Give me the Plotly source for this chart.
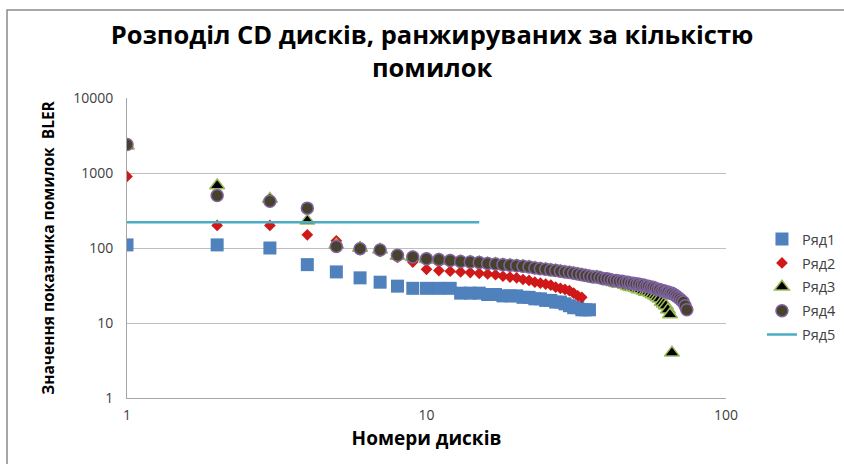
import plotly.graph_objects as go

# Ranked BLER values for each series (disc rank -> error count)
ryad1 = [110, 110, 100, 60, 48, 40, 35, 31, 29, 29, 29, 29, 25, 25, 25, 24, 24,
         23, 23, 23, 22, 22, 21, 21, 20, 20, 19, 19, 18, 17, 16, 16, 15, 15, 15]
ryad2 = [900, 200, 200, 150, 125, 95, 90, 75, 65, 52, 50, 49, 48, 47, 46, 45,
         44, 42, 41, 40, 38, 37, 35, 34, 33, 32, 30, 29, 28, 27, 25, 23, 22]
ryad3 = [2300, 680, 450, 230, 110, 100, 95, 78, 75, 71, 69, 67, 66, 65, 64, 62,
         61, 60, 59, 58, 57, 56, 54, 53, 52, 51, 50, 49, 48, 47, 46, 45, 44, 43,
         42, 41, 41, 40, 38, 37, 36, 35, 34, 33, 33, 32, 31, 30, 30, 29, 28, 28,
         27, 26, 26, 25, 24, 23, 22, 21, 19, 18, 17, 15, 13, 4]
ryad4 = [2400, 500, 420, 340, 105, 98, 94, 80, 76, 72, 70, 68, 66, 65, 64, 62,
         61, 60, 59, 58, 57, 56, 54, 53, 52, 51, 50, 49, 48, 47, 46, 45, 44, 43,
         42, 41, 41, 40, 39, 39, 38, 37, 37, 36, 36, 35, 35, 34, 34, 33, 33, 32,
         32, 31, 31, 30, 30, 29, 28, 28, 27, 27, 26, 26, 25, 25, 24, 23, 22, 21,
         20, 19, 17, 15]
ryad5 = [220] * 15

series_names = ["Ряд1", "Ряд2", "Ряд3", "Ряд4", "Ряд5"]

x_tick_vals = [1, 10, 100]
x_tick_text = ["1", "10", "100"]
y_tick_vals = [1, 10, 100, 1000, 10000]
y_tick_text = ["1", "10", "100", "1000", "10000"]

FONT = "Open Sans"


def ranks(values):
    return list(range(1, len(values) + 1))


fig = go.Figure()

fig.add_trace(go.Scatter(
    x=ranks(ryad1), y=ryad1, name=series_names[0], mode="markers",
    legendgroup="1",
    marker=dict(symbol="square", size=13, color="#4F81BD",
                line=dict(color="#4F81BD", width=0)),
))
fig.add_trace(go.Scatter(
    x=ranks(ryad2), y=ryad2, name=series_names[1], mode="markers",
    legendgroup="2",
    marker=dict(symbol="diamond", size=9, color="#D01818",
                line=dict(color="#D01818", width=0)),
))
fig.add_trace(go.Scatter(
    x=ranks(ryad3), y=ryad3, name=series_names[2], mode="markers",
    legendgroup="3",
    marker=dict(symbol="triangle-up", size=13, color="#000000",
                line=dict(color="#9BBB59", width=1.5)),
))
fig.add_trace(go.Scatter(
    x=ranks(ryad4), y=ryad4, name=series_names[3], mode="markers",
    legendgroup="4",
    marker=dict(symbol="circle", size=12, color="#47422C",
                line=dict(color="#8064A2", width=1.5)),
))
fig.add_trace(go.Scatter(
    x=ranks(ryad5), y=ryad5, name=series_names[4], mode="lines",
    legendgroup="5",
    line=dict(color="#4BACC6", width=2.5),
))

axis_common = dict(
    type="log",
    showline=True, linecolor="#A6A6A6", linewidth=1,
    gridcolor="#BFBFBF", gridwidth=1,
    ticks="", zeroline=False,
    tickfont=dict(family=FONT, size=14, color="#404040"),
)

fig.update_xaxes(
    **axis_common,
    range=[0, 2],
    tickvals=x_tick_vals, ticktext=x_tick_text,
    showgrid=False,
    ticklabelstandoff=4,
    title=dict(text="<b>Номери дисків</b>",
               font=dict(family=FONT, size=19, color="#000000"), standoff=8),
)
fig.update_yaxes(
    **axis_common,
    range=[0, 4],
    tickvals=y_tick_vals, ticktext=y_tick_text,
    showgrid=True,
    ticklabelstandoff=10,
    title=dict(text="<b>Значення показника помилок  BLER</b>",
               font=dict(family=FONT, size=15.5, color="#000000"), standoff=14),
)

fig.update_layout(
    width=844, height=464,
    margin=dict(l=127, r=118, t=98, b=66, autoexpand=False),
    paper_bgcolor="#FFFFFF", plot_bgcolor="#FFFFFF",
    title=dict(
        text="<b>Розподіл CD дисків, ранжируваних за кількістю<br>помилок</b>",
        font=dict(family=FONT, size=25.5, color="#000000"),
        x=0.512, xanchor="center", xref="container",
        y=0.905, yanchor="top", yref="container",
    ),
    legend=dict(
        x=0.9028, y=0.519, xanchor="left", yanchor="top",
        xref="container", yref="container",
        font=dict(family=FONT, size=14.5, color="#404040"),
        tracegroupgap=2, bgcolor="rgba(0,0,0,0)",
    ),
    showlegend=True,
    shapes=[
        # outer chart frame (top and left edges visible)
        dict(type="rect", xref="paper", yref="paper",
             x0=-0.2003, x1=1.6, y0=-0.6, y1=1.293,
             line=dict(color="#8C8C8C", width=1.5), layer="below"),
    ],
)

fig.write_html("out.html")
